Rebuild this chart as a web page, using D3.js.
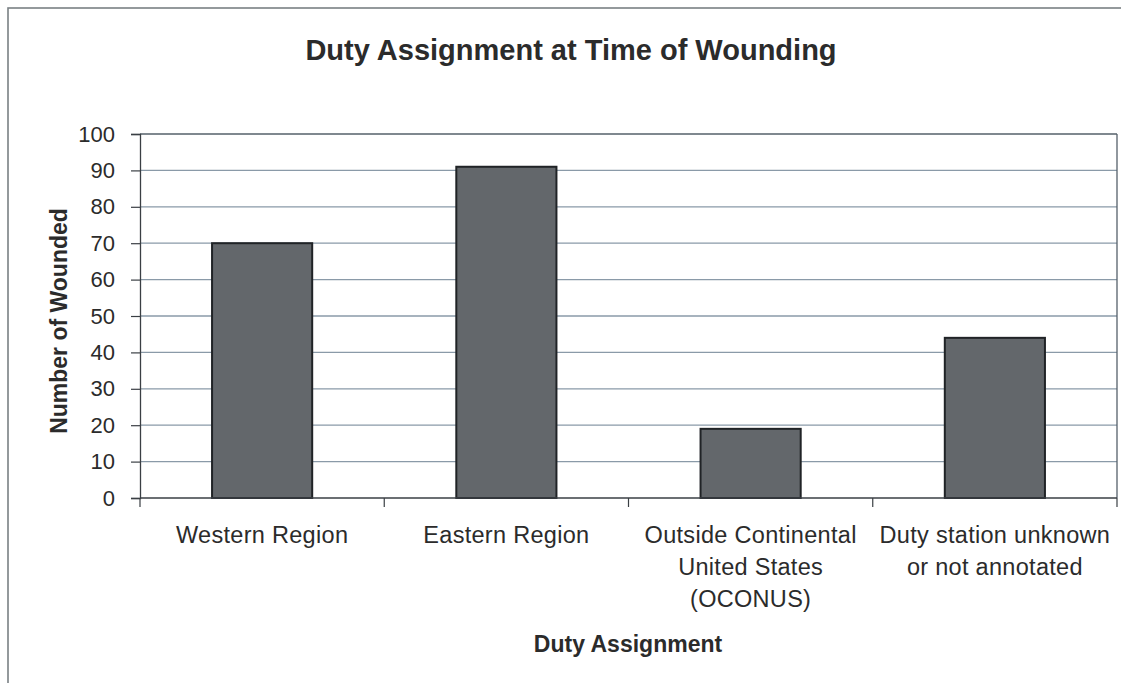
<!DOCTYPE html>
<html>
<head>
<meta charset="utf-8">
<script src="https://cdn.jsdelivr.net/npm/d3@7"></script>
<style>
  body { margin: 0; background: #fff; }
  text { font-family: "Liberation Sans", Arial, sans-serif; fill: #2b2b2b; }
</style>
</head>
<body>
<svg id="chart"></svg>
<script>
// Chart data
const categories = [
    ["Western Region"],
    ["Eastern Region"],
    ["Outside Continental", "United States", "(OCONUS)"],
    ["Duty station unknown", "or not annotated"]
];
const wounded = [70, 91, 19, 44];
const yTicks = [0, 10, 20, 30, 40, 50, 60, 70, 80, 90, 100];

const W = 1121, H = 683;
const margin = { top: 134, right: 4, bottom: 185, left: 140 };
const width = W - margin.left - margin.right;
const height = H - margin.top - margin.bottom;

const root = d3.select("#chart").attr("width", W).attr("height", H);

// outer frame
root.append("rect")
    .attr("x", 8).attr("y", 8)
    .attr("width", W + 10).attr("height", H + 10)
    .attr("fill", "none").attr("stroke", "#7a8084").attr("stroke-width", 1.6);

const svg = root.append("g")
    .attr("transform", `translate(${margin.left},${margin.top})`);

const x = d3.scaleBand()
    .domain(d3.range(categories.length))
    .range([0, width])
    .paddingInner(0.59)
    .paddingOuter(0.295);

const y = d3.scaleLinear().domain([0, 100]).range([height, 0]);

// gridlines
svg.selectAll(".grid")
    .data(yTicks.filter(d => d > 0))
    .enter().append("line")
    .attr("x1", 0).attr("x2", width)
    .attr("y1", d => y(d)).attr("y2", d => y(d))
    .attr("stroke", d => d === 100 ? "#55606a" : "#8a9aa8")
    .attr("stroke-width", 1.3);

// right border of plot
svg.append("line")
    .attr("x1", width).attr("x2", width)
    .attr("y1", 0).attr("y2", height)
    .attr("stroke", "#55606a").attr("stroke-width", 1.3);

// bars
svg.selectAll(".bar")
    .data(wounded)
    .enter().append("rect")
    .attr("class", "bar")
    .attr("x", (d, i) => x(i))
    .attr("y", d => y(d))
    .attr("width", x.bandwidth())
    .attr("height", d => height - y(d))
    .attr("fill", "#63676b")
    .attr("stroke", "#202326")
    .attr("stroke-width", 2);

// y axis
const yAxis = svg.append("g")
    .call(d3.axisLeft(y).tickValues(yTicks).tickSize(9).tickPadding(16));
yAxis.select(".domain").attr("stroke", "#3a3f44").attr("stroke-width", 1.3);
yAxis.selectAll(".tick line").attr("stroke", "#3a3f44").attr("stroke-width", 1.2);
yAxis.selectAll("text")
    .style("font-size", "22px")
    .attr("fill", "#2b2b2b");

// x axis: ticks at category boundaries
const bounds = d3.range(categories.length + 1).map(i => i * x.step());
const xAxis = svg.append("g").attr("transform", `translate(0,${height})`);
xAxis.append("line")
    .attr("x1", 0).attr("x2", width)
    .attr("stroke", "#3a3f44").attr("stroke-width", 1.5);
xAxis.selectAll(".xtick")
    .data(bounds)
    .enter().append("line")
    .attr("x1", d => d).attr("x2", d => d)
    .attr("y1", 0).attr("y2", 9)
    .attr("stroke", "#3a3f44").attr("stroke-width", 1.2);

const labels = xAxis.selectAll(".xlabel")
    .data(categories)
    .enter().append("text")
    .attr("text-anchor", "middle")
    .attr("transform", (d, i) => `translate(${x(i) + x.bandwidth() / 2},0)`)
    .style("font-size", "23.5px")
    .style("letter-spacing", "0.3px");
labels.selectAll("tspan")
    .data(d => d)
    .enter().append("tspan")
    .attr("x", 0)
    .attr("y", (d, i) => 45 + i * 32)
    .text(d => d);

// titles
root.append("text")
    .attr("x", 571).attr("y", 60)
    .attr("text-anchor", "middle")
    .style("font-size", "29px").style("font-weight", "bold")
    .text("Duty Assignment at Time of Wounding");

root.append("text")
    .attr("x", 628).attr("y", 652)
    .attr("text-anchor", "middle")
    .style("font-size", "23px").style("font-weight", "bold")
    .text("Duty Assignment");

root.append("text")
    .attr("transform", `translate(67,${margin.top + height / 2 + 5}) rotate(-90)`)
    .attr("text-anchor", "middle")
    .style("font-size", "23px").style("font-weight", "bold")
    .text("Number of Wounded");
</script>
</body>
</html>
